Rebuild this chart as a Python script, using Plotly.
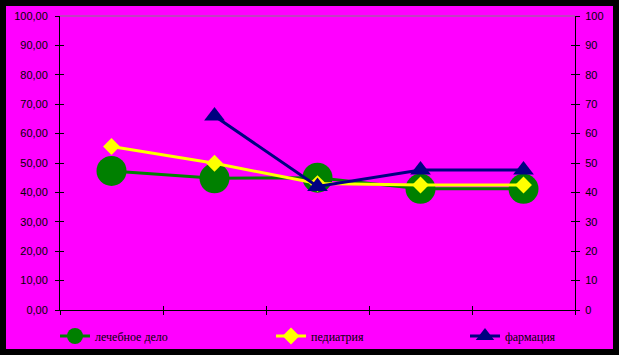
import plotly.graph_objects as go

categories = ["1", "2", "3", "4", "5"]
series_names = ["лечебное дело", "педиатрия", "фармация"]
lechebnoe = [47.3, 44.8, 45.0, 41.2, 41.2]
pediatria = [55.6, 49.9, 43.0, 42.5, 42.5]
farmacia = [None, 66.0, 42.0, 47.6, 47.6]

W, H = 619, 355
L, R, T, B = 60, 44, 16, 45
pw, ph = W - L - R, H - T - B

def px_x(p):
    return (p - L) / pw

def px_y(p):
    return (H - B - p) / ph

fig = go.Figure()
fig.add_trace(go.Scatter(x=categories, y=lechebnoe, name=series_names[0], mode="lines+markers",
                         line=dict(color="#008000", width=3),
                         marker=dict(symbol="circle", size=30, color="#008000"),
                         legend="legend"))
fig.add_trace(go.Scatter(x=categories, y=pediatria, name=series_names[1], mode="lines+markers",
                         line=dict(color="#FFFF00", width=3),
                         marker=dict(symbol="diamond", size=13, color="#FFFF00"),
                         legend="legend2"))
fig.add_trace(go.Scatter(x=categories, y=farmacia, name=series_names[2], mode="lines+markers",
                         line=dict(color="#000080", width=3),
                         marker=dict(symbol="triangle-up", size=18, color="#000080"),
                         legend="legend3", connectgaps=False))

tickfont = dict(family="Liberation Sans, Arial", size=11, color="black")
common_x = dict(type="category", categoryorder="array", categoryarray=categories,
                range=[-0.5, 4.5], tickson="boundaries", showticklabels=False,
                showgrid=False, zeroline=False, tickcolor="black", ticklen=4, tickwidth=1)
common_y = dict(range=[0, 100], dtick=10, tick0=0, showgrid=False, zeroline=False,
                tickcolor="black", ticklen=4, tickwidth=1, tickfont=tickfont)

legfont = dict(family="Liberation Serif, Times New Roman", size=12, color="black")
ly = px_y(336)

fig.update_layout(
    width=W, height=H,
    margin=dict(l=L, r=R, t=T, b=B, pad=0, autoexpand=False),
    paper_bgcolor="black",
    plot_bgcolor="#FF00FF",
    separators=", ",
    xaxis=dict(**common_x, ticks="outside", showline=True, linecolor="black", linewidth=1, anchor="y"),
    xaxis2=dict(**common_x, ticks="inside", showline=False, overlaying="x", anchor="y"),
    yaxis=dict(**common_y, ticks="outside", showline=True, linecolor="black", linewidth=1,
               tickformat=".2f", side="left", anchor="x", ticklabelstandoff=5),
    yaxis3=dict(**common_y, ticks="inside", showline=False, showticklabels=False,
                overlaying="y", side="left", anchor="x"),
    yaxis2=dict(**common_y, ticks="outside", showline=True, linecolor="black", linewidth=1,
                tickformat="d", side="right", overlaying="y", anchor="x", ticklabelstandoff=3),
    yaxis4=dict(**common_y, ticks="inside", showline=False, showticklabels=False,
                overlaying="y", side="right", anchor="x"),
    legend=dict(x=px_x(55), y=ly, xanchor="left", yanchor="middle", orientation="h",
                bgcolor="rgba(0,0,0,0)", font=legfont),
    legend2=dict(x=px_x(271), y=ly, xanchor="left", yanchor="middle", orientation="h",
                 bgcolor="rgba(0,0,0,0)", font=legfont),
    legend3=dict(x=px_x(465), y=ly, xanchor="left", yanchor="middle", orientation="h",
                 bgcolor="rgba(0,0,0,0)", font=legfont),
    shapes=[
        dict(type="rect", xref="paper", yref="paper", layer="below",
             x0=px_x(6), x1=px_x(613), y0=px_y(349), y1=px_y(6),
             fillcolor="#FF00FF", line=dict(width=0)),
        dict(type="line", xref="paper", yref="paper", x0=0, x1=1, y0=1, y1=1,
             line=dict(color="#808080", width=1)),
    ],
)

# invisible traces to activate overlay axes
fig.add_trace(go.Scatter(x=categories, y=[None] * 5, xaxis="x2", yaxis="y3", showlegend=False, hoverinfo="skip"))
fig.add_trace(go.Scatter(x=categories, y=[None] * 5, xaxis="x2", yaxis="y2", showlegend=False, hoverinfo="skip"))
fig.add_trace(go.Scatter(x=categories, y=[None] * 5, xaxis="x2", yaxis="y4", showlegend=False, hoverinfo="skip"))

fig.write_html("out.html", config={"displayModeBar": False},
               post_script="document.body.style.margin='0';document.body.style.background='black';")
